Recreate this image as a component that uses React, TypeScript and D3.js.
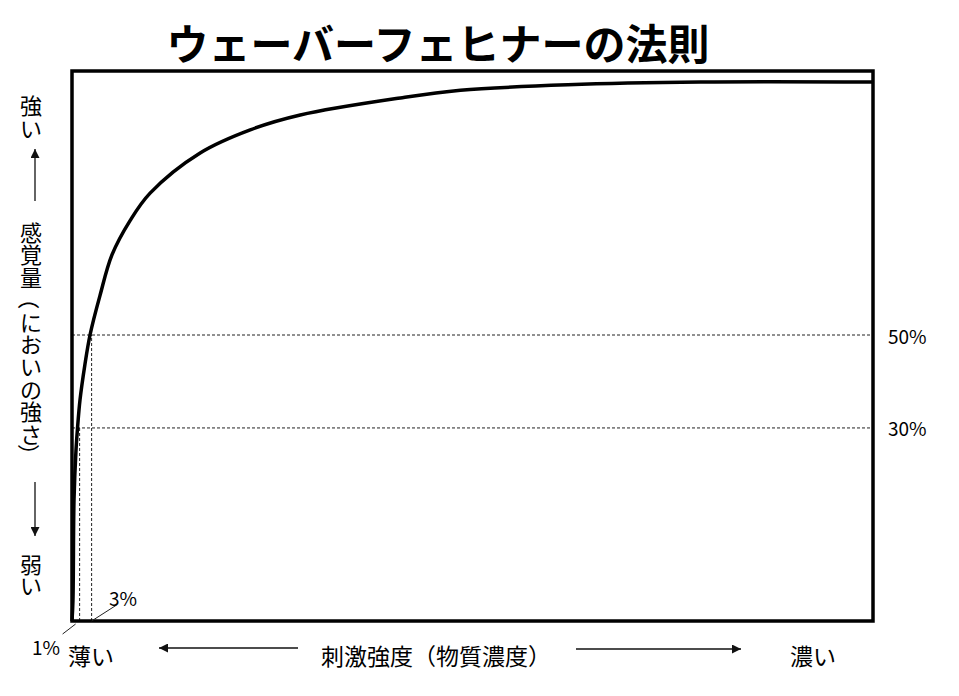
import React, { useEffect, useRef } from "react";
import * as d3 from "d3";

// curve: stimulus (% of axis) vs sensation (% of axis)
const stimulus = [0, 0.12, 0.25, 0.5, 0.69, 1.0, 1.6, 2.25, 3.5, 5.0, 7.25, 9.75, 16, 22.25, 28.5, 41, 48.5, 61.9, 78.5, 100];
const sensation = [0, 3.8, 22, 31.1, 35.1, 40.2, 46.5, 52, 59.2, 66.6, 72.8, 77.8, 85.1, 89.3, 92, 95.1, 96.5, 97.5, 98, 98];

// guide levels (sensation) and their labels
const levelValues = [52, 35.1];
const levelLabels = ["50%", "30%"];
// guide stimuli and their labels
const markerValues = [0.95, 2.45];
const markerLabels = ["1%", "3%"];

const title = "ウェーバーフェヒナーの法則";
const yTop = ["強", "い"];
const yMid = ["感", "覚", "量", "（", "に", "お", "い", "の", "強", "さ", "）"];
const yBottom = ["弱", "い"];
const xLeft = "薄い";
const xMid = "刺激強度（物質濃度）";
const xRight = "濃い";

const FONT = "'Noto Sans CJK JP', 'Noto Sans', sans-serif";

export default function App() {
  const ref = useRef<SVGSVGElement | null>(null);

  useEffect(() => {
    const svg = d3.select(ref.current);
    svg.selectAll("*").remove();
    const width = 959;
    const height = 696;
    const margin = { top: 71, right: 86, bottom: 75, left: 72 };

    const x = d3.scaleLinear().domain([0, 100]).range([margin.left, width - margin.right]);
    const y = d3.scaleLinear().domain([0, 100]).range([height - margin.bottom, margin.top]);

    svg.append("rect").attr("width", width).attr("height", height).attr("fill", "#fff");

    // arrow head
    svg
      .append("defs")
      .append("marker")
      .attr("id", "head")
      .attr("viewBox", "0 0 10 10")
      .attr("refX", 10)
      .attr("refY", 5)
      .attr("markerWidth", 10)
      .attr("markerHeight", 9)
      .attr("markerUnits", "userSpaceOnUse")
      .attr("orient", "auto")
      .append("path")
      .attr("d", "M0,0 L10,5 L0,10 Z")
      .attr("fill", "#111");

    // title
    svg
      .append("text")
      .attr("x", 438)
      .attr("y", 41)
      .attr("text-anchor", "middle")
      .attr("dominant-baseline", "central")
      .attr("font-family", FONT)
      .attr("font-weight", 700)
      .attr("font-size", 42)
      .text(title);

    // dotted guides
    const guides = svg.append("g").attr("stroke", "#222").attr("stroke-width", 1).attr("stroke-dasharray", "3,2");
    levelValues.forEach((v) => {
      guides.append("line").attr("x1", x(0)).attr("x2", x(100)).attr("y1", y(v)).attr("y2", y(v));
    });
    markerValues.forEach((v, i) => {
      guides
        .append("line")
        .attr("x1", x(v))
        .attr("x2", x(v))
        .attr("y1", y(0))
        .attr("y2", y(levelValues[levelValues.length - 1 - i]));
    });

    // curve
    const data = d3.zip(stimulus, sensation);
    const line = d3
      .line<number[]>()
      .x((d) => x(d[0]))
      .y((d) => y(d[1]))
      .curve(d3.curveCatmullRom.alpha(0.5));
    svg
      .append("path")
      .datum(data)
      .attr("fill", "none")
      .attr("stroke", "#000")
      .attr("stroke-width", 3.5)
      .attr("d", line);

    // frame
    svg
      .append("rect")
      .attr("x", x(0))
      .attr("y", y(100))
      .attr("width", x(100) - x(0))
      .attr("height", y(0) - y(100))
      .attr("fill", "none")
      .attr("stroke", "#000")
      .attr("stroke-width", 3.5);

    // level labels on the right
    levelValues.forEach((v, i) => {
      svg
        .append("text")
        .attr("x", x(100) + 15)
        .attr("y", y(v))
        .attr("dominant-baseline", "central")
        .attr("font-family", FONT)
        .attr("font-size", 19)
        .text(levelLabels[i]);
    });

    // marker labels with leader lines
    const leaders = [
      { dx: -17, dy: 13, tx: 60, ty: 646, anchor: "end" },
      { dx: 25, dy: -16, tx: 109, ty: 597, anchor: "start" },
    ];
    markerValues.forEach((v, i) => {
      const l = leaders[i];
      svg
        .append("line")
        .attr("x1", x(v) - (i === 0 ? 4 : 0))
        .attr("y1", y(0) + (i === 0 ? 3 : 0))
        .attr("x2", x(v) + l.dx)
        .attr("y2", y(0) + l.dy)
        .attr("stroke", "#222")
        .attr("stroke-width", 1);
      svg
        .append("text")
        .attr("x", l.tx)
        .attr("y", l.ty)
        .attr("text-anchor", l.anchor)
        .attr("dominant-baseline", "central")
        .attr("font-family", FONT)
        .attr("font-size", 19)
        .text(markerLabels[i]);
    });

    // vertical y label, one glyph per line; brackets turned a quarter
    const vText = (chars: string[], y0: number, step: number) => {
      chars.forEach((c, i) => {
        const cy = y0 + i * step;
        const t = svg
          .append("text")
          .attr("x", 31)
          .attr("y", cy)
          .attr("text-anchor", "middle")
          .attr("dominant-baseline", "central")
          .attr("font-family", FONT)
          .attr("font-size", 22)
          .text(c);
        if (c === "（" || c === "）") t.attr("transform", `rotate(90,31,${cy})`);
      });
    };
    vText(yTop, 104, 23);
    vText(yMid, 231, 22.4);
    vText(yBottom, 563, 21);

    const arrow = (x1: number, y1: number, x2: number, y2: number) =>
      svg
        .append("line")
        .attr("x1", x1)
        .attr("y1", y1)
        .attr("x2", x2)
        .attr("y2", y2)
        .attr("stroke", "#111")
        .attr("stroke-width", 1.3)
        .attr("marker-end", "url(#head)");
    arrow(35, 201, 35, 149);
    arrow(35, 482, 35, 536);
    arrow(298, 648, 159, 648);
    arrow(576, 649, 741, 649);

    // x labels
    const xText = (s: string, x0: number) =>
      svg
        .append("text")
        .attr("x", x0)
        .attr("y", 655)
        .attr("dominant-baseline", "central")
        .attr("font-family", FONT)
        .attr("font-size", 23)
        .text(s);
    xText(xLeft, 68);
    xText(xMid, 321);
    xText(xRight, 790);
  }, []);

  return (
    <svg
      ref={ref}
      width={959}
      height={696}
      style={{ position: "absolute", left: 0, top: 0, display: "block" }}
    />
  );
}
